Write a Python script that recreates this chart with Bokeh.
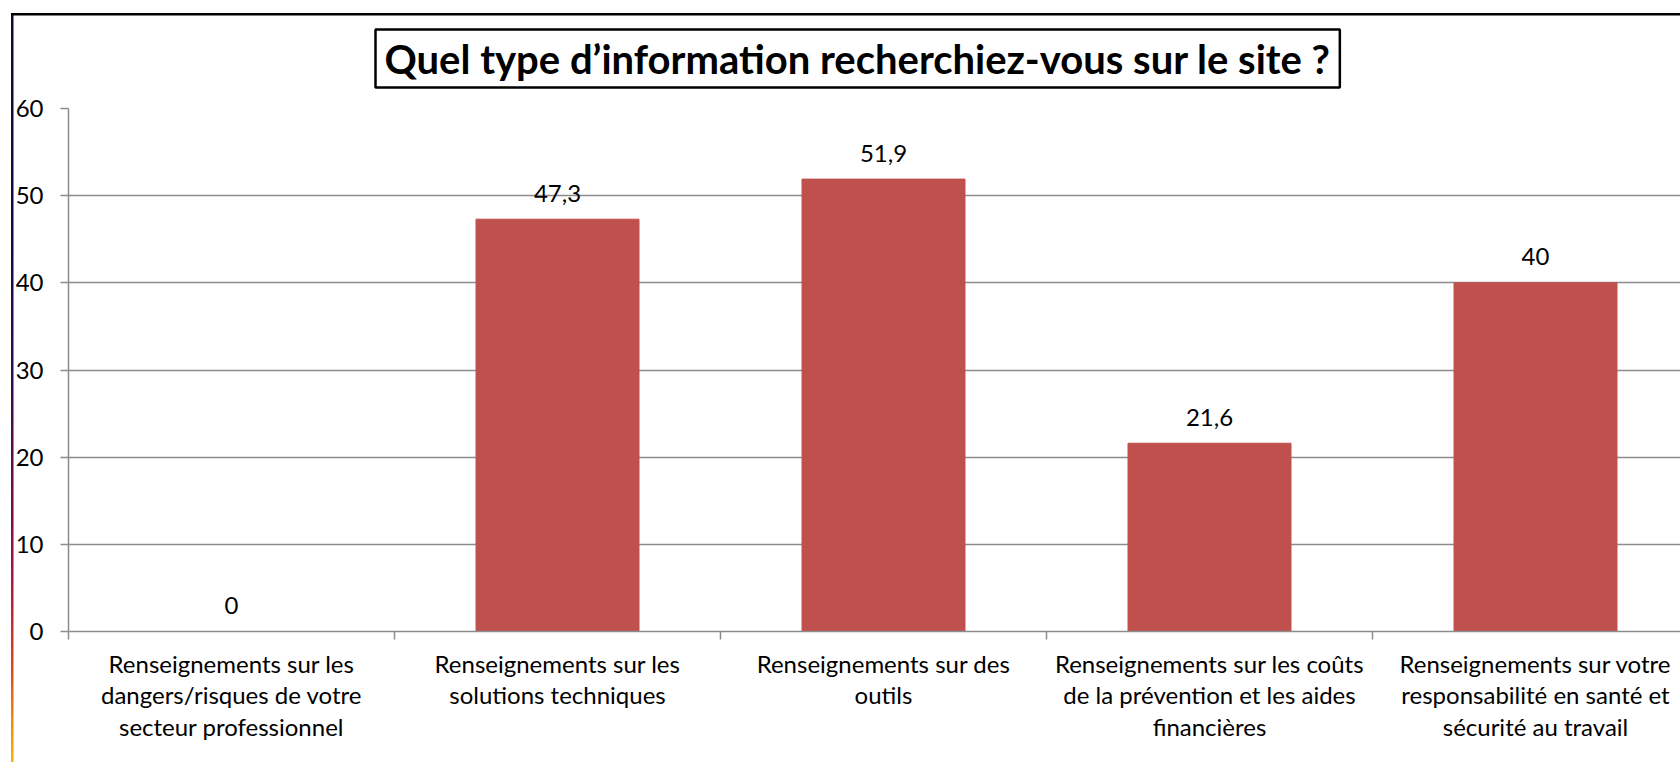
from bokeh.plotting import figure
from bokeh.models import Range1d, FixedTicker, Title
from bokeh.core.properties import value
from bokeh.embed import file_html
from bokeh.resources import INLINE

# ---- data ----
categories = [
    "Renseignements sur les\ndangers/risques de votre\nsecteur professionnel",
    "Renseignements sur les\nsolutions techniques",
    "Renseignements sur des\noutils",
    "Renseignements sur les coûts\nde la prévention et les aides\nfinancières",
    "Renseignements sur votre\nresponsabilité en santé et\nsécurité au travail",
]
values = [0, 47.3, 51.9, 21.6, 40]
y_ticks = [0, 10, 20, 30, 40, 50, 60]
title_text = "Quel type d\u2019information recherchiez-vous sur le site ?"

FONT = "Lato"
GRID = "#8c8c8c"
BAR = "#C0504D"

centers = [i + 0.5 for i in range(len(categories))]
bounds = list(range(len(categories) + 1))
labels = [("%g" % v).replace(".", ",") for v in values]

W, H = 1680, 762
LEFT, TOP, BOTTOM = 68, 108, 131
CAT_PX = 326

p = figure(
    width=W, height=H,
    x_range=Range1d(0, (W - LEFT) / CAT_PX), y_range=Range1d(0, 60),
    output_backend="svg", toolbar_location=None,
    min_border_left=LEFT, min_border_right=0, min_border_top=TOP, min_border_bottom=BOTTOM,
)
p.border_fill_color = None
p.background_fill_color = None
p.outline_line_color = None

p.styles = {
    "background": (
        "linear-gradient(#000000, #000000) 11px 13px / 100% 2.5px no-repeat, "
        "linear-gradient(to bottom, #0c0c3a 0%, #150b48 30%, #3a0b52 50%, #7a0c4c 66%, "
        "#b01c3c 76%, #d84a20 86%, #f08a0c 93%, #ffc000 100%) 11px 13px / 2.5px 100% no-repeat"
    )
}

p.title = Title(
    text=title_text, align="left", offset=375 - LEFT,
    text_font=FONT, text_font_size="40px", text_font_style="bold", text_color="#000000",
    border_line_color="#000000", border_line_width=2.5, background_fill_color="#ffffff",
    padding={"left": 9, "right": 9, "top": 5, "bottom": 5}, standoff=42,
)

p.vbar(x=centers, top=values, width=0.5, fill_color=BAR, line_color=BAR)
p.text(x=centers, y=values, text=labels, text_align="center", text_baseline="alphabetic",
       y_offset=-26, text_font=value(FONT), text_font_size="24px", text_color="#000000")

# y axis
p.yaxis.ticker = FixedTicker(ticks=y_ticks)
p.yaxis.axis_line_color = GRID
p.yaxis.axis_line_width = 1.5
p.yaxis.major_tick_line_color = GRID
p.yaxis.major_tick_line_width = 1.5
p.yaxis.major_tick_out = 8
p.yaxis.major_tick_in = 0
p.yaxis.minor_tick_line_color = None
p.yaxis.major_label_standoff = 17
p.yaxis.major_label_text_font = FONT
p.yaxis.major_label_text_font_size = "24px"
p.yaxis.major_label_text_color = "#000000"

# x axis
p.xaxis.ticker = FixedTicker(ticks=centers, minor_ticks=bounds)
p.xaxis.major_label_overrides = {c: lab for c, lab in zip(centers, categories)}
p.xaxis.axis_line_color = GRID
p.xaxis.axis_line_width = 1.5
p.xaxis.major_tick_line_color = None
p.xaxis.major_tick_out = 0
p.xaxis.major_tick_in = 0
p.xaxis.minor_tick_line_color = GRID
p.xaxis.minor_tick_line_width = 1.5
p.xaxis.minor_tick_out = 8
p.xaxis.minor_tick_in = 0
p.xaxis.major_label_standoff = 9
p.xaxis.major_label_text_font = FONT
p.xaxis.major_label_text_font_size = "24px"
p.xaxis.major_label_text_line_height = 1.1
p.xaxis.major_label_text_color = "#000000"

p.xgrid.grid_line_color = None
p.ygrid.ticker = FixedTicker(ticks=y_ticks)
p.ygrid.grid_line_color = GRID
p.ygrid.grid_line_width = 1.5

open("out.html", "w").write(file_html(p, INLINE))
